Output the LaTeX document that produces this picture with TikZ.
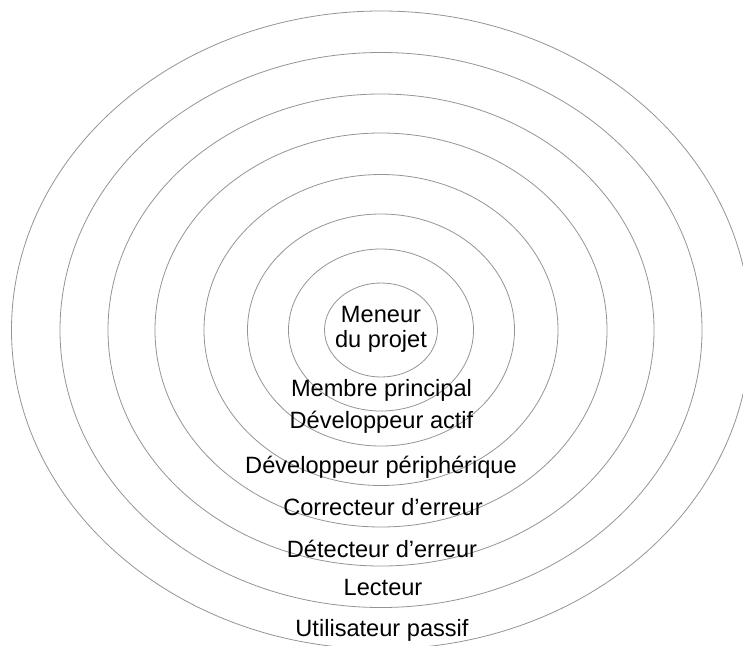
\documentclass[tikz,border=0pt]{standalone}
\usepackage{fontspec}
\setmainfont{Liberation Sans}
\begin{document}
\begin{tikzpicture}[x=1pt,y=-1pt,
  ring/.style={draw=black!42, line width=0.8pt},
  lbl/.style={anchor=base, inner sep=0pt, font=\fontsize{23.6}{25}\selectfont}]
\useasboundingbox (0,0) rectangle (743,645);
\begin{scope}
\clip (0,0) rectangle (743,645);
\coordinate (c) at (381,330);
\draw[ring] (c) ellipse [x radius=56.5, y radius=47];
\draw[ring] (c) ellipse [x radius=92.5, y radius=81];
\draw[ring] (c) ellipse [x radius=133.5, y radius=116];
\draw[ring] (c) ellipse [x radius=177, y radius=155.5];
\draw[ring] (c) ellipse [x radius=226, y radius=197];
\draw[ring] (c) ellipse [x radius=273, y radius=236];
\draw[ring] (c) ellipse [x radius=321, y radius=277.5];
\draw[ring] (c) ellipse [x radius=369.5, y radius=319];
\end{scope}
\node[lbl] (l1a) at (381,322.7) {Meneur};
\node[lbl] (l1b) at (381,347.7) {du projet};
\node[lbl] (l2) at (381.5,396.7) {Membre principal};
\node[lbl] (l3) at (381.5,428.3) {Développeur actif};
\node[lbl] (l4) at (381,473.3) {Développeur périphérique};
\node[lbl] (l5) at (383,515) {Correcteur d’erreur};
\node[lbl] (l6) at (382,557.3) {Détecteur d’erreur};
\node[lbl] (l7) at (383,595) {Lecteur};
\node[lbl] (l8) at (382,636.7) {Utilisateur passif};
\end{tikzpicture}
\end{document}
